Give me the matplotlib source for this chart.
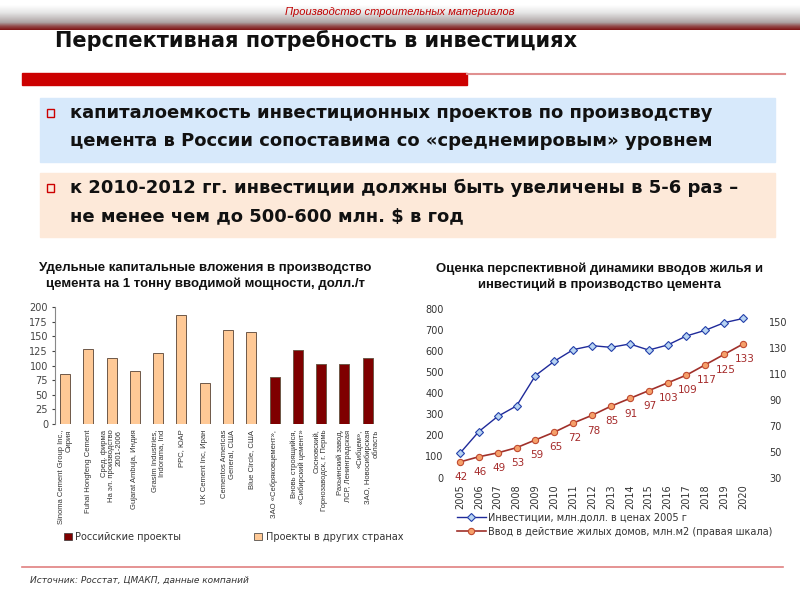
import numpy as np
import matplotlib.pyplot as plt
from matplotlib.patches import Rectangle

plt.rcParams['font.family'] = ['DejaVu Sans']

# Left chart: specific capex per tonne of new capacity, $/t
project_labels = [
    "Sinoma Cement Group Inc.,\nСирия",
    "Fuhai Hongfeng Cement",
    "Сред. фирма\nНа эл. производство\n2001-2006",
    "Gujarat Ambuja, Индия",
    "Grasim Industries,\nIndorama, Ind",
    "PPC, ЮАР",
    "UK Cement Inc, Иран",
    "Cementos Americas\nGeneral, США",
    "Blue Circle, США",
    "ЗАО «Себряковцемент»,",
    "Вновь строящийся,\n«Сибирский цемент»",
    "Сосновский,\nГорнозаводск, г. Пермь",
    "Рахьинский завод,\nЛСР, Ленинградская",
    "«Сибцем»,\nЗАО, Новосибирская\nобласть",
]
capex = [85, 128, 113, 91, 121, 187, 70, 160, 157, 81, 127, 102, 102, 112]
is_russian = [False] * 9 + [True] * 5

# Right chart: investments and housing forecast
years = [str(y) for y in range(2005, 2021)]
investments = [115, 218, 290, 340, 484, 552, 607, 626, 618, 634, 605, 629, 672, 699, 735, 755]
housing = [42, 46, 49, 53, 59, 65, 72, 78, 85, 91, 97, 103, 109, 117, 125, 133]

RUS = "#7F0000"
FOREIGN = "#FFC996"
W, H = 800, 600


def box(x0, y0, x1, y1):
    # pixel box (top-left origin) -> figure rect
    return [x0 / W, 1 - y1 / H, (x1 - x0) / W, (y1 - y0) / H]


fig = plt.figure(figsize=(8, 6), dpi=100)

# overlay for slide decorations
deco = fig.add_axes([0, 0, 1, 1])
deco.set_xlim(0, W)
deco.set_ylim(H, 0)
deco.axis("off")

# header gradient band
grad = np.linspace(0, 1, 60)
stops = [0, 0.3, 0.7, 0.85, 1]
r = np.interp(grad, stops, [1.0, 0.90, 0.68, 0.58, 0.50])
g = np.interp(grad, stops, [1.0, 0.90, 0.64, 0.30, 0.08])
b = np.interp(grad, stops, [1.0, 0.90, 0.64, 0.30, 0.08])
img = np.stack([r, g, b], axis=-1)[:, None, :]
deco.imshow(img, extent=[0, W, 30, 5], aspect="auto", zorder=0)
deco.text(400, 12, "Производство строительных материалов", color="#C00000",
          fontsize=8, style="italic", ha="center", va="center",
          family=["Liberation Sans"])

# main title
deco.text(55, 41, "Перспективная потребность в инвестициях", fontsize=15,
          fontweight="bold", ha="left", va="center", color="#111111")

# red rule
deco.add_patch(Rectangle((22, 73), 445, 12, color="#CC0000", zorder=1))
deco.plot([467, 785], [73.5, 73.5], color="#E09090", lw=1.5)

# bullet boxes
deco.add_patch(Rectangle((40, 98), 735, 64, color="#D7E9FB", zorder=1))
deco.add_patch(Rectangle((40, 173), 735, 64, color="#FDE9D9", zorder=1))
for yb in (113, 188):
    deco.add_patch(Rectangle((47, yb - 4), 7, 8, fill=False, ec="#CC0000", lw=1, zorder=2))
bullets = [
    (113, "капиталоемкость инвестиционных проектов по производству"),
    (141, "цемента в России сопоставима со «среднемировым» уровнем"),
    (188, "к 2010-2012 гг. инвестиции должны быть увеличены в 5-6 раз –"),
    (216, "не менее чем до 500-600 млн. $ в год"),
]
for yt, txt in bullets:
    deco.text(70, yt, txt, fontsize=13, fontweight="bold", ha="left", va="center",
              color="#111111", zorder=3)

# footer
deco.plot([22, 783], [567, 567], color="#E08080", lw=1.2)
deco.text(30, 580, "Источник: Росстат, ЦМАКП, данные компаний", fontsize=6.5,
          style="italic", ha="left", va="center", color="#333333")

# chart titles
deco.text(205, 276, "Удельные капитальные вложения в производство\nцемента на 1 тонну вводимой мощности, долл./т",
          fontsize=9.5, fontweight="bold", ha="center", va="center", linespacing=1.35,
          family=["Liberation Sans"], color="#111111")
deco.text(600, 277, "Оценка перспективной динамики вводов жилья и\nинвестиций в производство цемента",
          fontsize=9.5, fontweight="bold", ha="center", va="center", linespacing=1.35,
          family=["Liberation Sans"], color="#111111")

# ---- left bar chart
ax = fig.add_axes(box(55, 307, 381, 424))
x = np.arange(len(capex))
colors = [RUS if rus else FOREIGN for rus in is_russian]
ax.bar(x, capex, width=0.43, color=colors, edgecolor="#6E5848", linewidth=0.7)
ax.set_xlim(-0.43, len(capex) - 0.43)
ax.set_ylim(0, 200)
ax.set_yticks(range(0, 201, 25))
ax.tick_params(axis="y", labelsize=7, colors="#444444", length=2, pad=3)
ax.set_xticks(x)
ax.set_xticklabels(project_labels, rotation=90, fontsize=5.5, color="#333333",
                   multialignment="right", linespacing=1.1,
                   family=["Liberation Sans"])
ax.tick_params(axis="x", length=0, pad=4)
for s in ("top", "right", "bottom"):
    ax.spines[s].set_visible(False)
ax.spines["left"].set_color("#888888")
ax.patch.set_alpha(0)

leg_handles = [Rectangle((0, 0), 1, 1, fc=RUS, ec="#333333", lw=0.5),
               Rectangle((0, 0), 1, 1, fc=FOREIGN, ec="#333333", lw=0.5)]
fig.legend(leg_handles, ["Российские проекты", "Проекты в других странах"],
           loc="center left", bbox_to_anchor=(55 / W, 1 - 537 / H), ncol=2,
           frameon=False, fontsize=7, handlelength=0.8, handleheight=0.8,
           handletextpad=0.4, columnspacing=7.5, labelcolor="#333333")

# ---- right line chart
ax1 = fig.add_axes(box(450.5, 309, 752.5, 477.5))
ax2 = ax1.twinx()
xi = np.arange(len(years))
l1, = ax1.plot(xi, investments, color="#1F2A9A", lw=1, marker="D", ms=4,
               mfc="#B8D4F2", mec="#2440AA", mew=0.8)
l2, = ax2.plot(xi, housing, color="#A0302A", lw=1.2, marker="o", ms=4.5,
               mfc="#F5A06A", mec="#C04A30", mew=0.8)
for xv, hv in zip(xi, housing):
    ax2.annotate(str(hv), (xv, hv), xytext=(1, -11), textcoords="offset points",
                 ha="center", va="center", fontsize=7.5, color="#A52A2A")
ax1.set_xlim(-0.5, len(years) - 0.5)
ax1.set_ylim(0, 800)
ax2.set_ylim(30, 160)
ax1.set_yticks(range(0, 801, 100))
ax2.set_yticks(range(30, 151, 20))
ax1.set_xticks(xi)
ax1.set_xticklabels(years, rotation=90, fontsize=7, color="#333333")
ax1.tick_params(axis="x", length=0, pad=5)
ax1.tick_params(axis="y", labelsize=7, colors="#333333", length=0, pad=5)
ax2.tick_params(axis="y", labelsize=7, colors="#333333", length=0, pad=12)
for a in (ax1, ax2):
    for s in a.spines.values():
        s.set_visible(False)
    a.patch.set_alpha(0)

fig.legend([l1, l2], ["Инвестиции, млн.долл. в ценах 2005 г",
                      "Ввод в действие жилых домов, млн.м2 (правая шкала)"],
           loc="upper left", bbox_to_anchor=(448 / W, 1 - 504 / H), frameon=False,
           fontsize=7, handlelength=3, handletextpad=0.2, labelspacing=0.4,
           labelcolor="#333333")

fig.savefig("out.png", dpi=100)
